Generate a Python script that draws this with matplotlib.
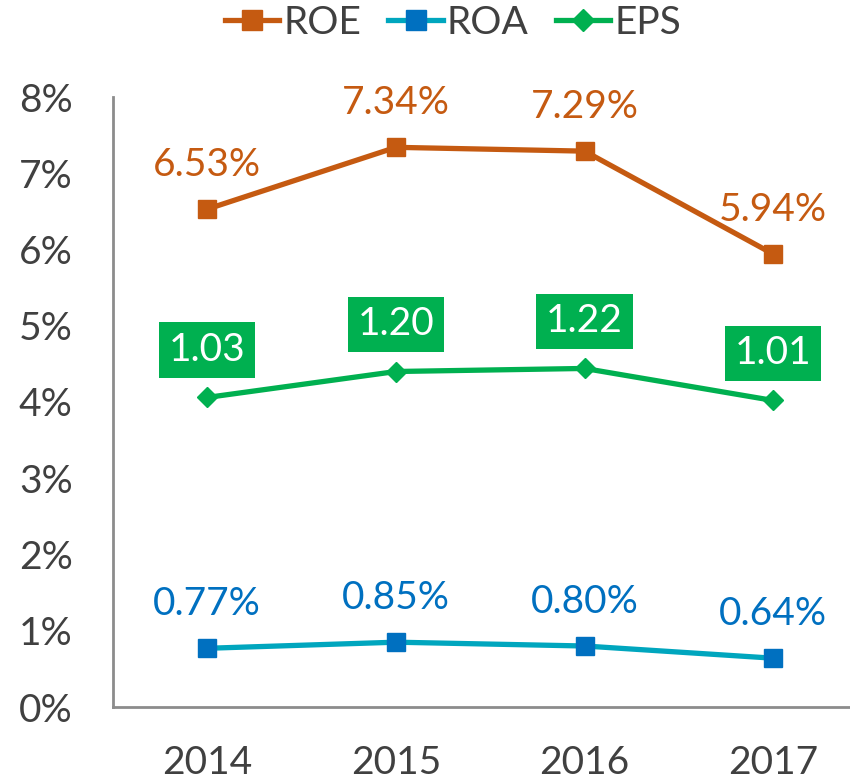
import matplotlib
matplotlib.use("Agg")
import matplotlib.pyplot as plt
from matplotlib.lines import Line2D

plt.rcParams['font.family'] = ['Lato', 'DejaVu Sans']

years = ['2014', '2015', '2016', '2017']
roe = [6.53, 7.34, 7.29, 5.94]
roa = [0.77, 0.85, 0.80, 0.64]
eps = [1.03, 1.20, 1.22, 1.01]

c_roe = '#C55A11'
c_roa_line = '#00A6BE'
c_roa_mark = '#0070C0'
c_eps = '#00B050'
c_text = '#404040'
fs = 28

fig = plt.figure(figsize=(8.5, 7.79), dpi=100)
ax = fig.add_axes([113 / 850, 1 - 707 / 779, (867.5 - 113) / 850, (707 - 97) / 779])
ax2 = ax.twinx()

x = range(len(years))
ax.plot(x, roe, color=c_roe, lw=3.8, marker='s', ms=13, mfc=c_roe, mec=c_roe)
ax.plot(x, roa, color=c_roa_line, lw=3.8, marker='s', ms=13, mfc=c_roa_mark, mec=c_roa_mark)
ax2.plot(x, eps, color=c_eps, lw=3.8, marker='D', ms=10, mfc=c_eps, mec=c_eps)

for i, v in enumerate(roe):
    ax.annotate(f"{v:.2f}%", (i, v), xytext=(0, 32), textcoords='offset points',
                ha='center', va='center', fontsize=fs, color=c_roe)
for i, v in enumerate(roa):
    ax.annotate(f"{v:.2f}%", (i, v), xytext=(0, 32), textcoords='offset points',
                ha='center', va='center', fontsize=fs, color=c_roa_mark)
for i, v in enumerate(eps):
    ax2.annotate(f"{v:.2f}", (i, v), xytext=(0, 34), textcoords='offset points',
                 ha='center', va='center', fontsize=fs, color='white',
                 bbox=dict(boxstyle='square,pad=0.25', fc=c_eps, ec='none'))

ax.set_xlim(-0.5, 3.5)
ax.set_ylim(0, 8)
ax2.set_ylim(-1, 3)
ax.set_yticks(range(0, 9))
ax.set_yticklabels([f"{t}%" for t in range(0, 9)])
ax.set_xticks(list(x))
ax.set_xticklabels(years)
ax.tick_params(axis='both', length=0, labelsize=fs, labelcolor=c_text)
ax.tick_params(axis='y', pad=29)
ax.tick_params(axis='x', pad=27)
ax2.set_yticks([])
for a in (ax, ax2):
    a.spines['top'].set_visible(False)
    a.spines['right'].set_visible(False)
    a.spines['left'].set_color('#8C8C8C')
    a.spines['bottom'].set_color('#8C8C8C')
    a.spines['left'].set_linewidth(2)
    a.spines['bottom'].set_linewidth(2)
ax2.spines['left'].set_visible(False)
ax2.spines['bottom'].set_visible(False)

handles = [
    Line2D([], [], color=c_roe, lw=3.8, marker='s', ms=15, mfc=c_roe, mec=c_roe),
    Line2D([], [], color=c_roa_line, lw=3.8, marker='s', ms=15, mfc=c_roa_mark, mec=c_roa_mark),
    Line2D([], [], color=c_eps, lw=3.8, marker='D', ms=11, mfc=c_eps, mec=c_eps),
]
fig.legend(handles, ['ROE', 'ROA', 'EPS'], loc='center', bbox_to_anchor=(453 / 850, 1 - 23 / 779),
           ncol=3, frameon=False, fontsize=fs, labelcolor=c_text, handlelength=1.4,
           handletextpad=0.1, columnspacing=0.7)

fig.savefig('out.png', dpi=100)
